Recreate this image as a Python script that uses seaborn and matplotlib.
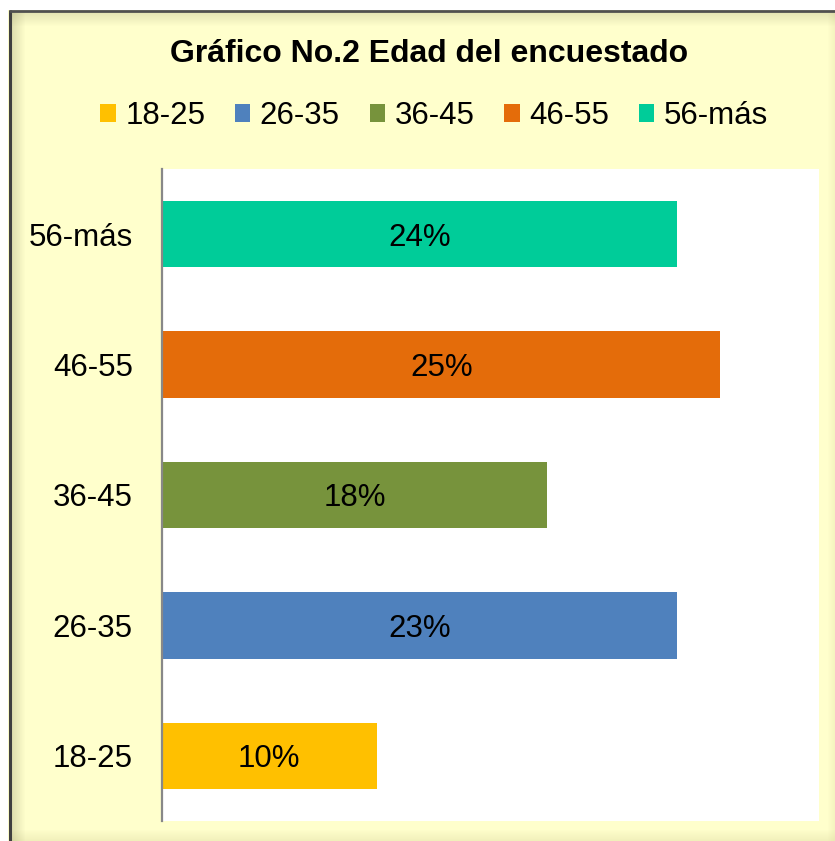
import matplotlib
matplotlib.use("Agg")
import matplotlib.pyplot as plt
from matplotlib.patches import Rectangle, Patch
import numpy as np
import pandas as pd
import seaborn as sns

# ---- data ----
categories = ["18-25", "26-35", "36-45", "46-55", "56-más"]
shares = [9.8, 23.5, 17.6, 25.5, 23.5]          # bar lengths (%)
bar_labels = ["10%", "23%", "18%", "25%", "24%"]  # labels as printed
colors = ["#FFC000", "#4F81BD", "#77933C", "#E46C0A", "#00CC99"]
title = "Gráfico No.2 Edad del encuestado"

sns.set_style("white")
plt.rcParams["font.family"] = ["Liberation Sans", "DejaVu Sans"]

df = pd.DataFrame({"grupo": categories, "pct": shares, "label": bar_labels})

W, H = 835, 841
fig = plt.figure(figsize=(W / 100, H / 100), dpi=100)
fig.patch.set_facecolor("white")

# ---- background frame ----
bg = fig.add_axes([0, 0, 1, 1], zorder=-10)
bg.set_xlim(0, W)
bg.set_ylim(H, 0)
bg.axis("off")
fill = "#FFFFCC"
bg.add_patch(Rectangle((8, 10), W - 8, H - 10, facecolor=fill, edgecolor="none"))
# right / bottom soft shadow
for i in range(8):
    a = 0.04 + 0.035 * i
    bg.add_patch(Rectangle((828 + i, 12), 1, H, facecolor="#D8D49A", alpha=a, edgecolor="none"))
for i in range(11):
    a = 0.04 + 0.03 * i
    bg.add_patch(Rectangle((11, 830 + i), W, 1, facecolor="#D8D49A", alpha=a, edgecolor="none"))
# inner shading along left / top
for i in range(14):
    a = 0.28 * (1 - i / 14)
    bg.add_patch(Rectangle((11 + i, 12), 1, H, facecolor="#8A8A60", alpha=a, edgecolor="none"))
    bg.add_patch(Rectangle((11, 12 + i), W, 1, facecolor="#8A8A60", alpha=a * 0.8, edgecolor="none"))
bg.plot([9.5, 9.5], [10, H], color="#404040", lw=2.2, solid_capstyle="butt")
bg.plot([8.5, W], [11, 11], color="#505050", lw=2.0, solid_capstyle="butt")

# ---- main axes ----
left, right = 162 / W, 819 / W
bottom, top = 1 - 821 / H, 1 - 169 / H
ax = fig.add_axes([left, bottom, right - left, top - bottom])
ax.set_facecolor("white")

order = categories[::-1]
sns.barplot(data=df, y="grupo", x="pct", hue="grupo", order=order,
            hue_order=categories, palette=colors, width=0.51,
            dodge=False, legend=False, saturation=1, ax=ax)

# bar labels
for bar_cont in ax.containers:
    for rect in bar_cont:
        rect.set_edgecolor("none")
        y = rect.get_y() + rect.get_height() / 2
        cat = order[int(round(y))]
        lab = df.loc[df.grupo == cat, "label"].iloc[0]
        ax.text(rect.get_width() / 2, y, lab, ha="center", va="center_baseline",
                fontsize=22.5, color="black")

ax.set_xlim(0, 30)
ax.set_xlabel("")
ax.set_ylabel("")
ax.set_xticks([])
ax.tick_params(axis="y", length=0, pad=21, labelsize=22.5, labelcolor="black")
for t in ax.get_yticklabels():
    t.set_verticalalignment("center_baseline")
for s in ["top", "right", "bottom"]:
    ax.spines[s].set_visible(False)
ax.spines["left"].set_color("#888888")
ax.spines["left"].set_linewidth(1.6)

# ---- title ----
fig.text(429 / W, 1 - 51 / H, title, ha="center", va="center_baseline",
         fontsize=23, fontweight="bold", color="black")

# ---- legend ----
handles = [Patch(facecolor=c, edgecolor="none", label=l) for c, l in zip(colors, categories)]
fig.legend(handles=handles, loc="center", bbox_to_anchor=(434 / W, 1 - 116 / H),
           ncol=5, frameon=False, fontsize=22.5, handlelength=0.5,
           handleheight=0.55, handletextpad=0.3, columnspacing=0.95,
           borderpad=0, borderaxespad=0, labelcolor="black")

fig.savefig("out.png", dpi=100, facecolor="white")
